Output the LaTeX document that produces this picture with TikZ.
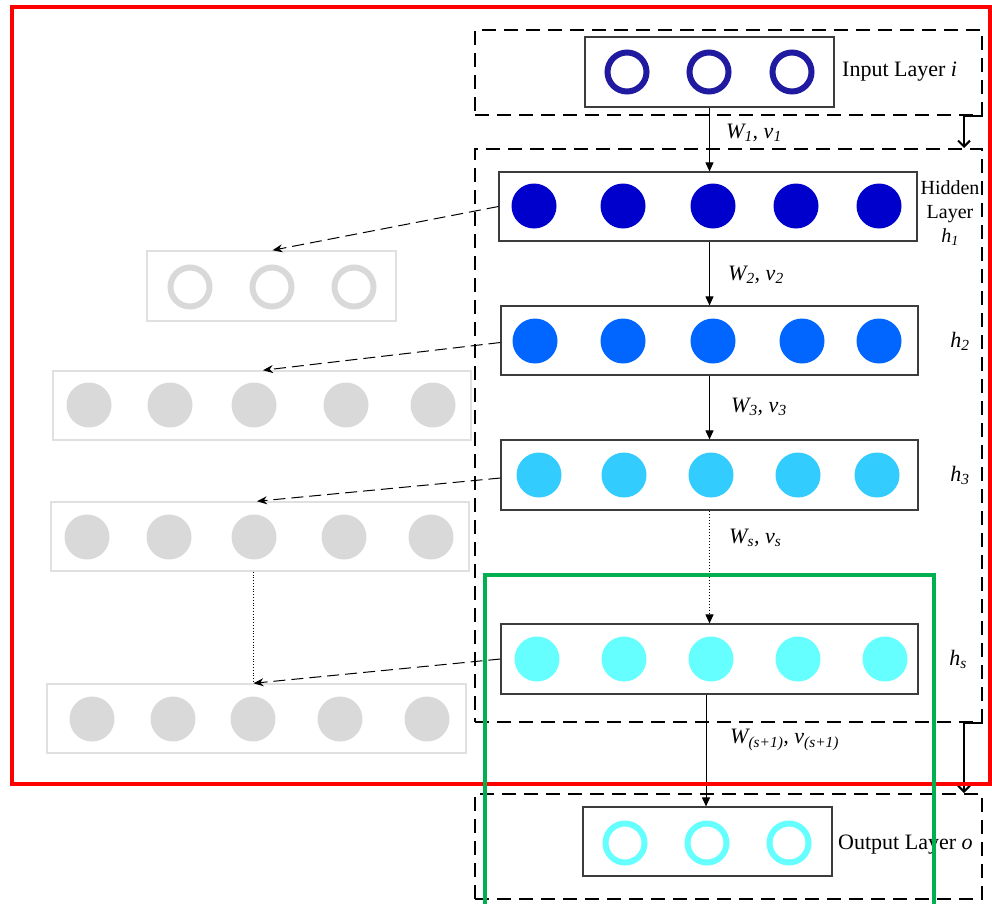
\documentclass[tikz,border=0pt]{standalone}
\usepackage{fontspec}
\setmainfont{Liberation Serif}
\usetikzlibrary{arrows.meta}
\definecolor{cin}{RGB}{31,26,160}
\definecolor{ch1}{RGB}{0,0,204}
\definecolor{ch2}{RGB}{0,102,255}
\definecolor{ch3}{RGB}{51,204,255}
\definecolor{chs}{RGB}{102,255,255}
\definecolor{cgr}{RGB}{217,217,217}
\definecolor{cgb}{RGB}{224,224,224}
\definecolor{cred}{RGB}{255,0,0}
\definecolor{cgreen}{RGB}{0,176,80}
\definecolor{cline}{RGB}{60,60,60}
\newcommand{\Wv}[1]{\textit{W\textsubscript{#1}, v\textsubscript{#1}}}
\tikzset{
  layerbox/.style={draw=cline, line width=1.2pt, rectangle, inner sep=0pt},
  greybox/.style={draw=cgb, line width=1.5pt, rectangle, inner sep=0pt},
  groupbox/.style={draw=black, line width=2pt, dash pattern=on 14pt off 8pt, rectangle, inner sep=0pt},
  ring/.style={draw=#1, line width=6pt},
  disc/.style={fill=#1},
  flow/.style={draw=black, line width=1pt, -{Triangle[length=9pt,width=8pt]}},
  branch/.style={draw=black, line width=1pt, dash pattern=on 12pt off 6pt, -{Stealth[length=10pt,width=8pt]}},
  jump/.style={draw=black, line width=2pt, -{Straight Barb[length=6pt,width=12pt]}},
  lbl/.style={font=\fontsize{22}{24}\selectfont, inner sep=0pt},
}
\begin{document}
\begin{tikzpicture}[x=1pt,y=-1pt]
\useasboundingbox (0,0) rectangle (992,903);
% group boxes (dashed)
\node[groupbox, minimum width=507pt, minimum height=85pt] (inbox) at (728.5,72.5) {};
\node[groupbox, minimum width=507pt, minimum height=573pt] (hidbox) at (728.5,435.5) {};
\node[groupbox, minimum width=507pt, minimum height=105pt] (outbox) at (728.5,846.5) {};
% layer boxes
\node[layerbox, minimum width=249pt, minimum height=70pt] (inp) at (709.5,72) {};
\node[layerbox, minimum width=418pt, minimum height=69pt] (h1) at (708,206.5) {};
\node[layerbox, minimum width=417pt, minimum height=69pt] (h2) at (709.5,340.5) {};
\node[layerbox, minimum width=417pt, minimum height=70pt] (h3) at (709.5,475) {};
\node[layerbox, minimum width=417pt, minimum height=70pt] (hs) at (709.5,659) {};
\node[layerbox, minimum width=249pt, minimum height=69pt] (out) at (707.5,841.5) {};
% grey boxes
\node[greybox, minimum width=249pt, minimum height=70pt] (g1) at (271.5,286) {};
\node[greybox, minimum width=418pt, minimum height=69pt] (g2) at (262,405.5) {};
\node[greybox, minimum width=418pt, minimum height=69pt] (g3) at (260,536.5) {};
\node[greybox, minimum width=419pt, minimum height=69pt] (g4) at (256.5,718.5) {};
% neurons
\foreach \x in {627,709,792} \draw[ring=cin] (\x,72) circle (19.5);
\foreach \x in {534,623,713,796,879} \fill[disc=ch1] (\x,206) circle (22.5);
\foreach \x in {535,623,713,802,879} \fill[disc=ch2] (\x,341) circle (22.5);
\foreach \x in {539,624,711,798,877} \fill[disc=ch3] (\x,475) circle (22.5);
\foreach \x in {537,624,711,798,885} \fill[disc=chs] (\x,659) circle (22.5);
\foreach \x in {625,707,789} \draw[ring=chs] (\x,843) circle (19.5);
\foreach \x in {190,272,354} \draw[ring=cgr] (\x,287) circle (19.5);
\foreach \x in {89,170,254,346,433} \fill[disc=cgr] (\x,405) circle (22.5);
\foreach \x in {87,169,254,344,431} \fill[disc=cgr] (\x,537) circle (22.5);
\foreach \x in {92,173,253,340,427} \fill[disc=cgr] (\x,719) circle (22.5);
% labels
\node[lbl, anchor=west] (linp) at (842,72) {Input Layer \textit{i}};
\node[lbl, align=center, font=\fontsize{20}{24}\selectfont] (lh1) at (950,213) {Hidden\\Layer\\\textit{h\textsubscript{1}}};
\node[lbl] (lh2) at (960,341) {\textit{h\textsubscript{2}}};
\node[lbl] (lh3) at (960,475) {\textit{h\textsubscript{3}}};
\node[lbl] (lhs) at (958,659) {\textit{h\textsubscript{s}}};
\node[lbl, anchor=west] (lout) at (838,845) {Output Layer \textit{o}};
\node[lbl, anchor=west] (w1) at (726,133) {\Wv{1}};
\node[lbl, anchor=west] (w2) at (728,275) {\Wv{2}};
\node[lbl, anchor=west] (w3) at (731,407) {\Wv{3}};
\node[lbl, anchor=west] (ws) at (729,538) {\Wv{s}};
\node[lbl, anchor=west] (wsp) at (730,740) {\textit{W\textsubscript{(s+1)}, v\textsubscript{(s+1)}}};
% main flow
\draw[flow] (inp.south) -- (inp.south |- h1.north);
\draw[flow] (h1.south -| inp.south) -- (inp.south |- h2.north);
\draw[flow] (h2.south -| inp.south) -- (inp.south |- h3.north);
\draw[flow, dotted] (h3.south -| inp.south) -- (inp.south |- hs.north);
\draw[flow] ([xshift=-3.5pt]hs.south) -- ([xshift=-3.5pt]hs.south |- out.north);
% branches
\draw[branch] (h1.west) -- ([xshift=1pt]g1.north);
\draw[branch] ([yshift=-2pt]h2.west) -- ([xshift=1pt]g2.north);
\draw[branch] ([yshift=-3pt]h3.west) -- ([xshift=-3pt]g3.north);
\draw[branch] (hs.west) -- ([xshift=-3pt]g4.north);
\draw[line width=0.8pt, dotted] ([xshift=-7pt]g3.south) -- ([xshift=-7pt]g3.south |- g4.north);
% jumps between groups
\draw[jump] (inbox.south east) -- ++(-19,0) -- ([xshift=-19pt]hidbox.north east);
\draw[jump] (hidbox.south east) -- ++(-19,0) -- ([xshift=-19pt]outbox.north east);
% outer frames
\draw[cred, line width=4pt] (12,7) rectangle (990,784);
\draw[cgreen, line width=4pt] (485,910) -- (485,575) -- (934,575) -- (934,910);
\end{tikzpicture}
\end{document}
